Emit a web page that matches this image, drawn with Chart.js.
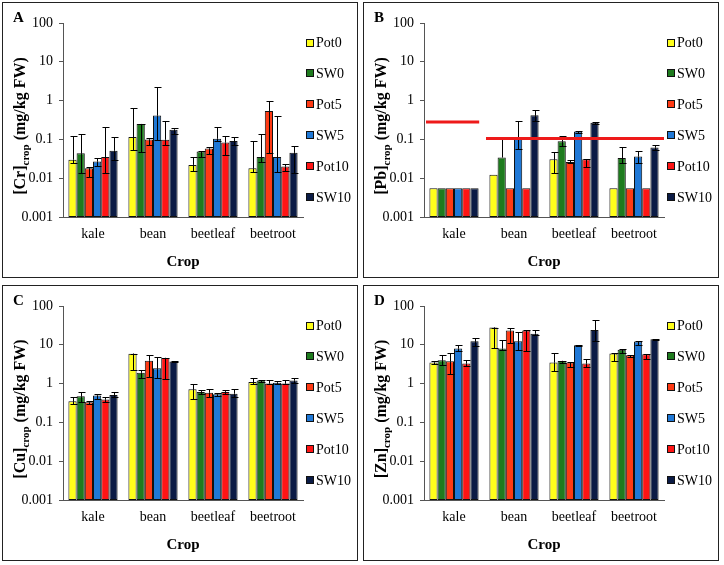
<!DOCTYPE html>
<html>
<head>
<meta charset="utf-8">
<script src="https://cdn.jsdelivr.net/npm/chart.js@4.4.1/dist/chart.umd.min.js"></script>
<style>
  body { margin: 0; background: #fff; width: 724px; height: 565px; position: relative; overflow: hidden; }
  .panel { position: absolute; width: 354px; height: 274px; border: 1px solid #222; background: #fff; }
  .panel canvas { display: block; }
</style>
</head>
<body>
<div class="panel" style="left:2px;top:2px"><canvas id="chartCr" width="354" height="274"></canvas></div>
<div class="panel" style="left:363px;top:2px"><canvas id="chartPb" width="354" height="274"></canvas></div>
<div class="panel" style="left:2px;top:285px"><canvas id="chartCu" width="354" height="274"></canvas></div>
<div class="panel" style="left:363px;top:285px"><canvas id="chartZn" width="354" height="274"></canvas></div>
<script>
const crops = ['kale', 'bean', 'beetleaf', 'beetroot'];
const treatments = ['Pot0', 'SW0', 'Pot5', 'SW5', 'Pot10', 'SW10'];
const treatmentColors = ['#ffff1a', '#1e7b1e', '#ff3a14', '#1f78d6', '#ff1414', '#0b1b45'];
const yTicks = [0.001, 0.01, 0.1, 1, 10, 100];

// rows follow treatments, columns follow crops
const crMean = [
  [0.030, 0.115, 0.022, 0.018],
  [0.044, 0.25, 0.049, 0.035],
  [0.018, 0.10, 0.058, 0.54],
  [0.027, 0.41, 0.104, 0.035],
  [0.035, 0.098, 0.083, 0.020],
  [0.051, 0.178, 0.091, 0.045]
];
const crHigh = [
  [0.125, 0.63, 0.035, 0.089],
  [0.14, 0.25, 0.051, 0.138],
  [0.02, 0.11, 0.065, 0.95],
  [0.034, 2.2, 0.21, 0.40],
  [0.21, 0.29, 0.124, 0.0235],
  [0.115, 0.2, 0.113, 0.069]
];
const crLow = [
  [0.025, 0.052, 0.015, 0.0147],
  [0.0136, 0.046, 0.036, 0.026],
  [0.011, 0.07, 0.043, 0.0446],
  [0.021, 0.098, 0.09, 0.0141],
  [0.014, 0.07, 0.040, 0.015],
  [0.03, 0.14, 0.070, 0.014]
];

const pbMean = [
  [0.0055, 0.0123, 0.031, 0.0055],
  [0.0055, 0.034, 0.089, 0.033],
  [0.0055, 0.0055, 0.026, 0.0055],
  [0.0055, 0.104, 0.16, 0.036],
  [0.0055, 0.0055, 0.031, 0.0055],
  [0.0055, 0.42, 0.27, 0.062]
];
const pbHigh = [
  [null, null, 0.046, null],
  [null, 0.1, 0.12, 0.062],
  [null, null, 0.029, null],
  [null, 0.29, 0.16, 0.049],
  [null, null, 0.031, null],
  [null, 0.58, 0.28, 0.07]
];
const pbLow = [
  [null, null, 0.0136, null],
  [null, null, 0.066, 0.024],
  [null, null, 0.024, null],
  [null, 0.057, 0.15, 0.025],
  [null, null, 0.02, null],
  [null, 0.3, 0.25, 0.053]
];
// maximum level lines for Pb: value, first and last category covered
const pbLimitValues = [0.28, 0.105];
const pbLimitFrom = [-0.5, 0.5];
const pbLimitTo = [0.42, 3.5];

const cuMean = [
  [0.35, 5.9, 0.72, 1.1],
  [0.47, 1.9, 0.61, 1.2],
  [0.33, 3.9, 0.58, 1.0],
  [0.49, 2.5, 0.53, 1.05],
  [0.39, 4.6, 0.61, 1.0],
  [0.51, 3.7, 0.55, 1.2]
];
const cuHigh = [
  [0.46, 5.9, 0.96, 1.4],
  [0.62, 2.2, 0.67, 1.25],
  [0.36, 5.6, 0.72, 1.26],
  [0.53, 4.8, 0.57, 1.15],
  [0.45, 4.6, 0.67, 1.26],
  [0.62, 3.8, 0.74, 1.4]
];
const cuLow = [
  [0.29, 2.2, 0.41, 0.96],
  [0.33, 1.4, 0.55, 1.1],
  [0.29, 1.5, 0.44, 0.95],
  [0.40, 1.4, 0.48, 0.95],
  [0.34, 1.3, 0.55, 0.95],
  [0.44, 3.6, 0.44, 1.05]
];

const znMean = [
  [3.5, 27.8, 3.5, 6.0],
  [4.0, 8.0, 3.85, 7.4],
  [3.75, 23.5, 3.5, 5.4],
  [8.0, 12.4, 9.7, 12.2],
  [3.3, 23.5, 3.3, 5.7],
  [12.4, 19.4, 24, 14.0]
];
const znHigh = [
  [3.9, 27.8, 6.3, 6.3],
  [5.5, 13.1, 3.9, 7.6],
  [6.2, 27, 3.6, 5.6],
  [9.8, 21, 9.8, 12.6],
  [4.1, 23.5, 4.2, 5.9],
  [15.3, 23.5, 43, 14.5]
];
const znLow = [
  [3.2, 8.2, 2.1, 3.8],
  [3.1, 7.5, 3.3, 6.2],
  [1.8, 11.4, 2.6, 4.8],
  [6.8, 7.3, 9.4, 9.6],
  [2.9, 7, 2.7, 4.2],
  [9.3, 17.5, 12.9, 13.3]
];

const serif = '"Liberation Serif", "Times New Roman", serif';
Chart.defaults.color = '#000';
Chart.defaults.font.family = serif;

// error bars, limit lines, legend and titles
const panelDecor = {
  id: 'panelDecor',
  afterDatasetsDraw(chart, args, opts) {
    const ctx = chart.ctx;
    const xs = chart.scales.x, ys = chart.scales.y;
    ctx.save();
    ctx.strokeStyle = '#000';
    ctx.lineWidth = 1;
    chart.data.datasets.forEach((ds, i) => {
      const meta = chart.getDatasetMeta(i);
      meta.data.forEach((bar, j) => {
        const hi = opts.high[i][j], lo = opts.low[i][j];
        const x = Math.round(bar.x) + 0.5;
        const y0 = bar.y;
        ctx.beginPath();
        if (hi != null) {
          const yh = Math.round(ys.getPixelForValue(hi)) + 0.5;
          ctx.moveTo(x, y0); ctx.lineTo(x, yh);
          ctx.moveTo(x - 3, yh); ctx.lineTo(x + 4, yh);
        }
        if (lo != null) {
          const yl = Math.round(ys.getPixelForValue(lo)) + 0.5;
          ctx.moveTo(x, y0); ctx.lineTo(x, yl);
          ctx.moveTo(x - 3, yl); ctx.lineTo(x + 4, yl);
        }
        ctx.stroke();
      });
    });
    if (opts.limits) {
      ctx.strokeStyle = '#ee1a1a';
      ctx.lineWidth = 3;
      opts.limits.values.forEach((v, k) => {
        const py = ys.getPixelForValue(v);
        ctx.beginPath();
        ctx.moveTo(xs.getPixelForValue(opts.limits.from[k]) + 2, py);
        ctx.lineTo(xs.getPixelForValue(opts.limits.to[k]), py);
        ctx.stroke();
      });
    }
    ctx.restore();
  },
  afterDraw(chart, args, opts) {
    const ctx = chart.ctx;
    const area = chart.chartArea;
    ctx.save();
    // panel letter
    ctx.fillStyle = '#000';
    ctx.font = 'bold 15px ' + serif;
    ctx.textBaseline = 'alphabetic';
    ctx.textAlign = 'left';
    ctx.fillText(opts.letter, 10, 19);

    // legend
    ctx.font = '14px ' + serif;
    ctx.textBaseline = 'middle';
    chart.data.datasets.forEach((ds, i) => {
      const cy = 39.5 + i * 30.9;
      ctx.fillStyle = ds.backgroundColor;
      ctx.fillRect(303, Math.round(cy - 4), 8, 8);
      ctx.strokeStyle = '#111';
      ctx.lineWidth = 1;
      ctx.strokeRect(303.5, Math.round(cy - 4) + 0.5, 7, 7);
      ctx.fillStyle = '#000';
      ctx.fillText(ds.label, 313, cy + 1);
    });

    // rotated y title with subscript
    const main1 = '[' + opts.element + ']';
    const sub = 'crop';
    const main2 = ' (mg/kg FW)';
    const fMain = 'bold 16px ' + serif;
    const fSub = 'bold 11px ' + serif;
    ctx.font = fMain;
    const w1 = ctx.measureText(main1).width, w3 = ctx.measureText(main2).width;
    ctx.font = fSub;
    const w2 = ctx.measureText(sub).width;
    const total = w1 + w2 + w3;
    ctx.translate(22, (area.top + area.bottom) / 2 + 6);
    ctx.rotate(-Math.PI / 2);
    ctx.textBaseline = 'alphabetic';
    let px = -total / 2;
    ctx.font = fMain; ctx.fillText(main1, px, 0); px += w1;
    ctx.font = fSub; ctx.fillText(sub, px, 4); px += w2;
    ctx.font = fMain; ctx.fillText(main2, px, 0);
    ctx.restore();
  }
};

function makePanel(canvasId, letter, element, means, highs, lows, limits) {
  const datasets = treatments.map((name, i) => ({
    label: name,
    data: means[i],
    backgroundColor: treatmentColors[i],
    borderColor: '#111',
    borderWidth: 1,
    borderSkipped: false,
    barPercentage: 1,
    categoryPercentage: 0.82
  }));
  return new Chart(document.getElementById(canvasId), {
    type: 'bar',
    data: { labels: crops, datasets: datasets },
    options: {
      responsive: false,
      animation: false,
      layout: { padding: { top: 20, right: 54, left: 0, bottom: 0 } },
      plugins: {
        legend: { display: false },
        tooltip: { enabled: false },
        panelDecor: { letter: letter, element: element, high: highs, low: lows, limits: limits }
      },
      scales: {
        x: {
          type: 'category',
          offset: true,
          grid: { display: false, drawTicks: false },
          border: { display: true, color: '#555', width: 1 },
          ticks: { font: { size: 14, family: serif }, padding: 9, color: '#000' },
          title: { display: true, text: 'Crop', font: { size: 15, weight: 'bold', family: serif }, padding: { top: 0, bottom: 6 }, color: '#000' },
          afterFit: (s) => { s.height = 60; }
        },
        y: {
          type: 'logarithmic',
          min: 0.001,
          max: 100,
          grid: { display: true, drawOnChartArea: false, drawTicks: true, tickLength: 4, color: '#555' },
          border: { display: true, color: '#555', width: 1 },
          afterBuildTicks: (s) => { s.ticks = yTicks.map(v => ({ value: v })); },
          ticks: { font: { size: 14, family: serif }, padding: 6, color: '#000', callback: (v) => String(v) },
          afterFit: (s) => { s.width = 60; }
        }
      }
    },
    plugins: [panelDecor]
  });
}

makePanel('chartCr', 'A', 'Cr', crMean, crHigh, crLow, null);
makePanel('chartPb', 'B', 'Pb', pbMean, pbHigh, pbLow, { values: pbLimitValues, from: pbLimitFrom, to: pbLimitTo });
makePanel('chartCu', 'C', 'Cu', cuMean, cuHigh, cuLow, null);
makePanel('chartZn', 'D', 'Zn', znMean, znHigh, znLow, null);
</script>
</body>
</html>
